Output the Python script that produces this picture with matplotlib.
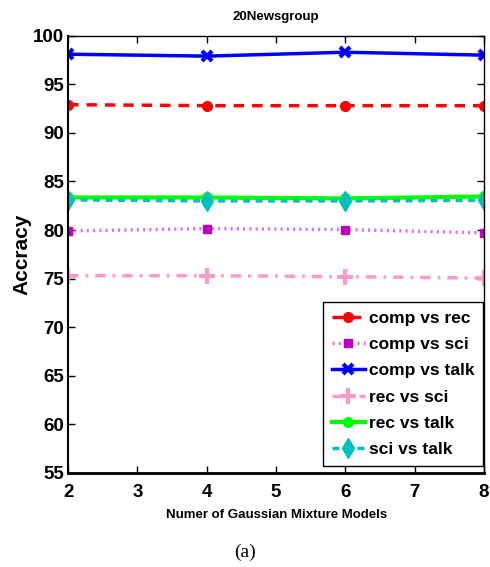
import matplotlib
matplotlib.use("Agg")
import matplotlib.pyplot as plt

# ── Data ──────────────────────────────────────────
gmm_counts = [2, 4, 6, 8]

comp_vs_rec = [92.9, 92.8, 92.8, 92.8]
comp_vs_sci = [79.9, 80.15, 80.05, 79.7]
comp_vs_talk = [98.1, 97.9, 98.3, 98.0]
rec_vs_sci = [75.3, 75.3, 75.2, 75.05]
rec_vs_talk = [83.35, 83.35, 83.25, 83.45]
sci_vs_talk = [83.1, 83.0, 83.0, 83.05]

plt.rcParams['font.family'] = ['Liberation Sans', 'DejaVu Sans']

fig = plt.figure(figsize=(4.9, 5.67), dpi=100)
ax = fig.add_axes([0.139, 0.166, 0.849, 0.771])

ax.plot(gmm_counts, comp_vs_rec, color='#ff0000', ls=(0, (3, 2.3)), lw=2.5,
        marker='o', ms=7, mfc='#ff0000', mec='#ff0000', label='comp vs rec')
ax.plot(gmm_counts, comp_vs_sci, color='#e070e0', ls=(0, (0.6, 1.2)), lw=2.5,
        marker='s', ms=6, mfc='#c000c0', mec='#c000c0', label='comp vs sci')
ax.plot(gmm_counts, comp_vs_talk, color='#0000ff', ls='-', lw=2.5,
        marker='x', ms=7, mew=3, mec='#0000ff', label='comp vs talk')
ax.plot(gmm_counts, rec_vs_sci, color='#ff99cc', ls=(0, (3, 2, 0.8, 2)), lw=2.5,
        marker='+', ms=11, mew=3, mec='#ff99cc', label='rec vs sci')
ax.plot(gmm_counts, rec_vs_talk, color='#00ff00', ls='-', lw=3,
        marker='o', ms=7, mfc='#00ff00', mec='#00ff00', label='rec vs talk')
ax.plot(gmm_counts, sci_vs_talk, color='#00bfbf', ls=(0, (2, 1.6)), lw=2.5,
        marker='d', ms=10, mfc='#00bfbf', mec='#00bfbf', label='sci vs talk')

ax.set_xlim(2, 8)
ax.set_ylim(55, 100)
ax.set_xticks(range(2, 9))
ax.set_yticks(range(55, 101, 5))
ax.tick_params(direction='in', top=True, right=True, length=5, width=1,
               labelsize=13.5, pad=3)
ax.tick_params(axis='x', pad=8)
for lab in ax.get_xticklabels() + ax.get_yticklabels():
    lab.set_fontweight('bold')
for sp in ax.spines.values():
    sp.set_linewidth(1)
ax.spines['bottom'].set_linewidth(2)
ax.spines['left'].set_linewidth(1.5)

ax.set_title('20Newsgroup', fontsize=9.5, fontweight='bold', pad=11)
ax.set_xlabel('Numer of Gaussian Mixture Models', fontsize=9.5, fontweight='bold',
              labelpad=6)
ax.set_ylabel('Accracy', fontsize=15, fontweight='bold', labelpad=1)

leg = ax.legend(loc='lower right', bbox_to_anchor=(0.998, 0.016),
                prop={'weight': 'bold', 'size': 12.5},
                frameon=True, fancybox=False, edgecolor='black', framealpha=1,
                handlelength=1.9, handletextpad=0.25, borderpad=0.5,
                labelspacing=0.64, borderaxespad=0, markerscale=1.0)
leg.get_frame().set_linewidth(1)

fig.text(0.5, 0.025, '(a)', ha='center', va='center', fontsize=14,
         family=['Liberation Serif', 'DejaVu Serif'])

fig.savefig('out.png', dpi=100)
